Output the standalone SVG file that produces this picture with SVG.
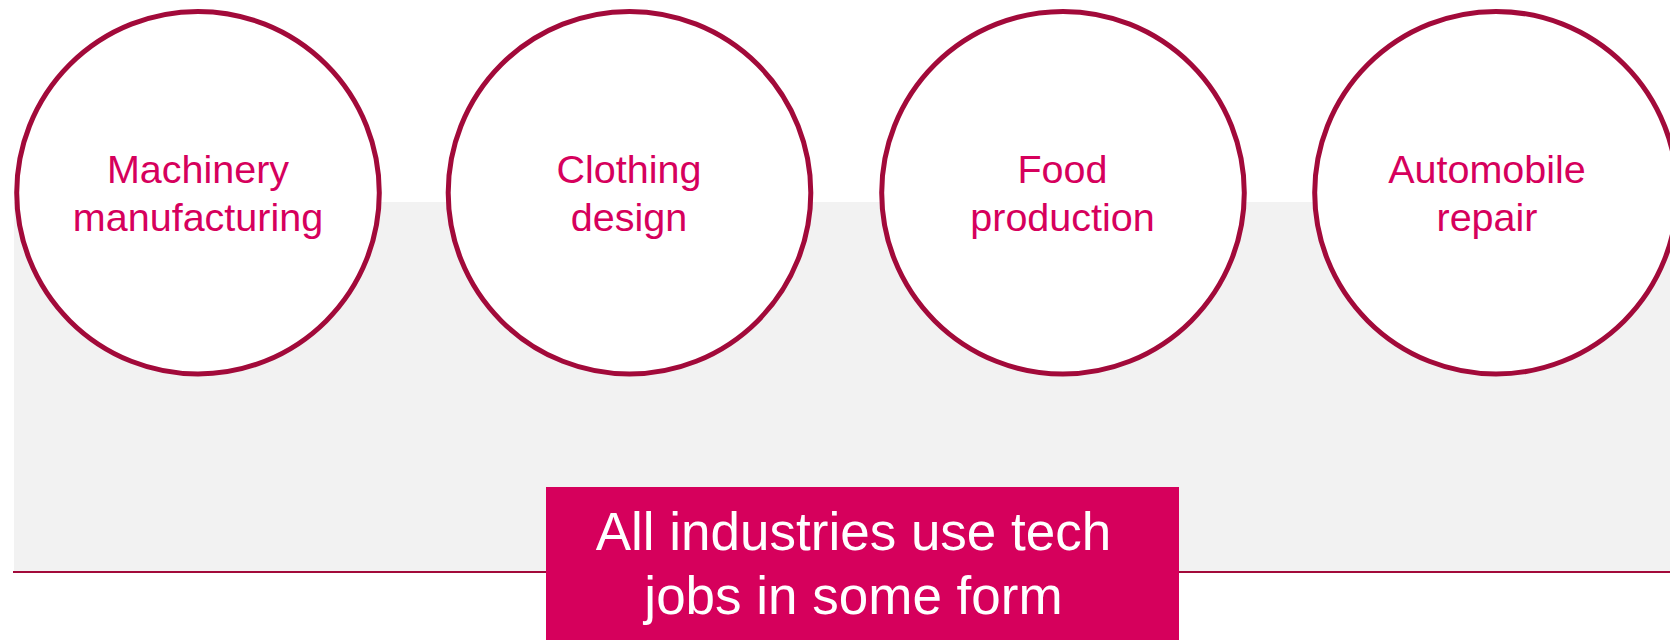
<svg xmlns="http://www.w3.org/2000/svg" width="1670" height="640" viewBox="0 0 1670 640">
<style>
.c{fill:#FFFFFF;stroke:#A20A3A;stroke-width:5}
.t{font-family:"Liberation Sans",Arial,sans-serif;font-size:39.5px;fill:#D6005C;text-anchor:middle}
.b{font-family:"Liberation Sans",Arial,sans-serif;font-size:53px;fill:#FFFFFF;text-anchor:middle}
</style>
<rect x="0" y="0" width="1670" height="640" fill="#FFFFFF"/>
<rect id="band" x="14" y="202" width="1656" height="369" fill="#F2F2F2"/>
<g id="connectors">
<line x1="13" y1="572" x2="1670" y2="572" stroke="#A20A3A" stroke-width="2"/>
</g>
<g id="node-machinery">
<circle class="c" cx="198" cy="192.7" r="181.3"/>
<text class="t" x="198" y="183">Machinery</text>
<text class="t" x="198" y="231">manufacturing</text>
</g>
<g id="node-clothing">
<circle class="c" cx="629.5" cy="192.7" r="181.3"/>
<text class="t" x="629" y="183">Clothing</text>
<text class="t" x="629" y="231">design</text>
</g>
<g id="node-food">
<circle class="c" cx="1063" cy="192.7" r="181.3"/>
<text class="t" x="1062.5" y="183">Food</text>
<text class="t" x="1062.5" y="231">production</text>
</g>
<g id="node-automobile">
<circle class="c" cx="1496" cy="192.7" r="181.3"/>
<text class="t" x="1487" y="183">Automobile</text>
<text class="t" x="1487" y="231">repair</text>
</g>
<g id="node-summary">
<rect x="546" y="487" width="633" height="153" fill="#D6005C"/>
<text class="b" x="853.5" y="550">All industries use tech</text>
<text class="b" x="853.5" y="614">jobs in some form</text>
</g>
</svg>
